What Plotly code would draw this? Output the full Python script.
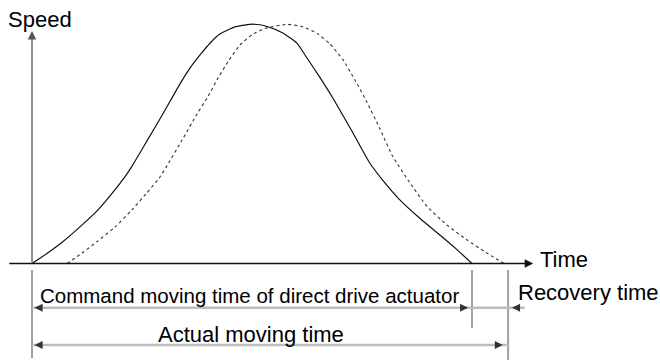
import plotly.graph_objects as go

# Speed profile of a direct drive actuator (time in % of command time, speed in % of peak)
command_t = [0, 3.4, 7.0, 10.9, 15.0, 18.2, 21.1, 22.7, 26.4, 29.8,
             33.6, 35.9, 38.2, 40.5, 42.7, 46.1, 49.5, 51.8, 53.6, 57.0,
             60.2, 62.5, 65.5, 68.4, 72.7, 76.8, 80.2, 83.6, 88.2, 92.7,
             96.4, 100]
command_v = [0, 4.2, 9.1, 15.3, 22.4, 29.3, 36.2, 40.6, 52.1, 62.7,
             75.0, 81.7, 87.2, 92.2, 95.9, 98.9, 100, 99.8, 99.0, 96.4,
             92.1, 85.9, 77.6, 69.1, 55.4, 41.9, 33.7, 26.6, 18.8, 11.9,
             6.1, 0]

actual_t = [8.0, 11.4, 14.8, 18.9, 22.7, 25.9, 28.9, 30.5, 34.1, 37.5,
            39.8, 42.3, 44.8, 47.3, 50.2, 53.4, 58.0, 61.6, 64.8, 67.7,
            70.7, 73.4, 76.1, 79.1, 82.0, 85.9, 89.8, 94.3, 98.9, 103.0,
            107.3]
actual_v = [0, 4.4, 9.2, 15.3, 22.4, 29.1, 35.7, 40.3, 51.6, 62.5,
            69.2, 77.6, 85.1, 91.4, 95.9, 98.5, 100, 98.9, 96.2, 91.8,
            85.1, 76.7, 67.5, 56.2, 44.7, 33.7, 23.8, 16.1, 9.8, 4.8,
            0]

command_time = 100
actual_time = 108.2

axis_labels = ["Speed", "Time"]
dim_labels = ["Command moving time of direct drive actuator",
              "Recovery time", "Actual moving time"]

FONT = "Liberation Sans, Arial, Helvetica, sans-serif"

fig = go.Figure()
fig.add_trace(go.Scatter(x=command_t, y=command_v, mode="lines",
                         line=dict(color="#111", width=1.2, shape="spline", smoothing=0.5),
                         hoverinfo="skip"))
fig.add_trace(go.Scatter(x=actual_t, y=actual_v, mode="lines",
                         line=dict(color="#333", width=1.1, dash="dot", shape="spline", smoothing=0.5),
                         hoverinfo="skip"))

shapes = []
ann = []

# axes with arrows
ann.append(dict(x=113.9, y=0, ax=-5.5, ay=0, xref="x", yref="y", axref="x", ayref="y",
                showarrow=True, arrowhead=2, arrowsize=1.3, arrowwidth=1.3,
                arrowcolor="#111", text="", standoff=0))
ann.append(dict(x=0, y=97.2, ax=0, ay=0, xref="x", yref="y", axref="x", ayref="y",
                showarrow=True, arrowhead=2, arrowsize=1.3, arrowwidth=1.3,
                arrowcolor="#555", text="", standoff=0))

# extension lines
ext_col = "#a0a0a0"
for t, v0, v1 in [(0, -2.7, -39.5), (command_time, -2.7, -27.0), (actual_time, -2.7, -40.5)]:
    shapes.append(dict(type="line", xref="x", yref="y", x0=t, x1=t, y0=v0, y1=v1,
                       line=dict(color=ext_col, width=2)))

# dimension lines
dim_col = "#bdbdbd"
v_cmd = -18.5
v_act = -34.1
shapes.append(dict(type="line", xref="x", yref="y", x0=0, x1=command_time, y0=v_cmd, y1=v_cmd,
                   line=dict(color=dim_col, width=2.5)))
shapes.append(dict(type="line", xref="x", yref="y", x0=command_time, x1=112.0, y0=v_cmd, y1=v_cmd,
                   line=dict(color=dim_col, width=2.5)))
shapes.append(dict(type="line", xref="x", yref="y", x0=0, x1=actual_time, y0=v_act, y1=v_act,
                   line=dict(color=dim_col, width=2.5)))

def head(t, v, direction):
    # small dark arrowhead pointing at (t, v); direction +1 = pointing right
    return dict(x=t, y=v, xref="x", yref="y", ax=-6 * direction, ay=0,
                showarrow=True, arrowhead=2, arrowsize=0.8, arrowwidth=2,
                arrowcolor="#333", text="", standoff=0)

ann.append(head(0.6, v_cmd, -1))
ann.append(head(command_time - 0.9, v_cmd, 1))
ann.append(head(actual_time + 0.9, v_cmd, -1))
ann.append(head(0.6, v_act, -1))
ann.append(head(actual_time - 1.2, v_act, 1))

# texts
ann.append(dict(x=-5.9, y=102, xref="x", yref="y", text=axis_labels[0], showarrow=False,
                xanchor="left", yanchor="middle", font=dict(family=FONT, size=22, color="#000")))
ann.append(dict(x=115.0, y=1.5, xref="x", yref="y", text=axis_labels[1], showarrow=False,
                xanchor="left", yanchor="middle", font=dict(family=FONT, size=22, color="#000")))
ann.append(dict(x=49.5, y=-13.4, xref="x", yref="y", text=dim_labels[0], showarrow=False,
                xanchor="center", yanchor="middle", font=dict(family=FONT, size=20.5, color="#000")))
ann.append(dict(x=110.0, y=-12.3, xref="x", yref="y", text=dim_labels[1], showarrow=False,
                xanchor="left", yanchor="middle", font=dict(family=FONT, size=22, color="#000")))
ann.append(dict(x=49.7, y=-29.5, xref="x", yref="y", text=dim_labels[2], showarrow=False,
                xanchor="center", yanchor="middle", font=dict(family=FONT, size=22, color="#000")))

fig.update_layout(
    width=660, height=360,
    margin=dict(l=0, r=0, t=0, b=0),
    paper_bgcolor="white", plot_bgcolor="white",
    showlegend=False,
    xaxis=dict(range=[-7.273, 142.727], visible=False, fixedrange=True),
    yaxis=dict(range=[-40.34, 110.16], visible=False, fixedrange=True),
    shapes=shapes, annotations=ann,
)

fig.write_html("out.html")
